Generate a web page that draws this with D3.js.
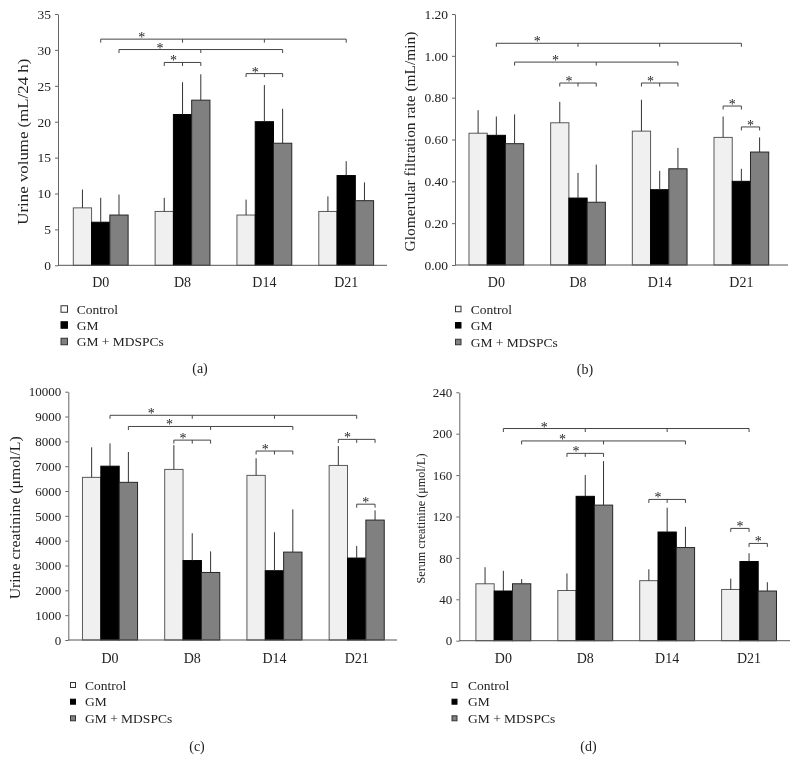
<!DOCTYPE html>
<html>
<head>
<meta charset="utf-8">
<script src="https://cdn.jsdelivr.net/npm/d3@7"></script>
<style>
  html, body { margin: 0; padding: 0; background: #fff; }
  svg { display: block; will-change: transform; }
  text { font-family: "Liberation Serif", "Times New Roman", serif; fill: #222; }
</style>
</head>
<body>
<svg id="chart" width="798" height="770"></svg>
<script>
// ---------- DATA ----------
const categories = ["D0", "D8", "D14", "D21"];
const seriesNames = ["Control", "GM", "GM + MDSPCs"];

// (a) Urine volume (mL/24 h): [Control, GM, GM+MDSPCs] per day
const urineVolume   = [[8, 6, 7], [7.5, 21, 23], [7, 20, 17], [7.5, 12.5, 9]];
const urineVolumeSD = [[2.55, 3.4, 2.85], [1.9, 4.5, 3.6], [2.15, 5.1, 4.8], [2.1, 2.0, 2.55]];
const urineVolumeTicks = [0, 5, 10, 15, 20, 25, 30, 35];

// (b) Glomerular filtration rate (mL/min)
const gfr   = [[0.63, 0.62, 0.58], [0.68, 0.32, 0.30], [0.64, 0.36, 0.46], [0.61, 0.40, 0.54]];
const gfrSD = [[0.11, 0.09, 0.14], [0.10, 0.12, 0.18], [0.15, 0.09, 0.10], [0.10, 0.06, 0.07]];
const gfrTicks = [0, 0.2, 0.4, 0.6, 0.8, 1.0, 1.2];

// (c) Urine creatinine (µmol/L)
const urineCr   = [[6550, 7000, 6350], [6870, 3200, 2720], [6630, 2790, 3540], [7030, 3300, 4830]];
const urineCrSD = [[1210, 920, 1220], [980, 1100, 850], [690, 1550, 1720], [780, 490, 390]];
const urineCrTicks = [0, 1000, 2000, 3000, 4000, 5000, 6000, 7000, 8000, 9000, 10000];

// (d) Serum creatinine (µmol/L)
const serumCr   = [[55, 48, 55], [48.5, 139.5, 131], [58, 105, 90], [49.5, 76.5, 48]];
const serumCrSD = [[16, 19.5, 4.5], [16.5, 20.5, 42.5], [11, 23.5, 20], [10.5, 8, 8.5]];
const serumCrTicks = [0, 40, 80, 120, 160, 200, 240];

// Significance brackets: level + list of [dayIndex, seriesIndex]
const urineVolumeBrackets = [
  { level: 31.5,  pts: [[0,1],[1,1],[2,1],[3,1]] },
  { level: 30.05, pts: [[0,2],[1,2],[2,2]] },
  { level: 28.25, pts: [[1,0],[1,1],[1,2]] },
  { level: 26.7,  pts: [[2,0],[2,1],[2,2]] }
];
const gfrBrackets = [
  { level: 1.06, pts: [[0,1],[1,1],[2,1],[3,1]] },
  { level: 0.97, pts: [[0,2],[1,2],[2,2]] },
  { level: 0.87, pts: [[1,0],[1,1],[1,2]] },
  { level: 0.87, pts: [[2,0],[2,1],[2,2]] },
  { level: 0.76, pts: [[3,0],[3,1]] },
  { level: 0.66, pts: [[3,1],[3,2]] }
];
const urineCrBrackets = [
  { level: 9050, pts: [[0,1],[1,1],[2,1],[3,1]] },
  { level: 8600, pts: [[0,2],[1,2],[2,2]] },
  { level: 8050, pts: [[1,0],[1,1],[1,2]] },
  { level: 7610, pts: [[2,0],[2,1],[2,2]] },
  { level: 8080, pts: [[3,0],[3,1],[3,2]] },
  { level: 5470, pts: [[3,1],[3,2]] }
];
const serumCrBrackets = [
  { level: 205,   pts: [[0,1],[1,1],[2,1],[3,1]] },
  { level: 193,   pts: [[0,2],[1,2],[2,2]] },
  { level: 181,   pts: [[1,0],[1,1],[1,2]] },
  { level: 136.5, pts: [[2,0],[2,1],[2,2]] },
  { level: 108.5, pts: [[3,0],[3,1]] },
  { level: 94,    pts: [[3,1],[3,2]] }
];

// ---------- STYLE / LAYOUT ----------
const fills   = ["#f0f0f0", "#000000", "#808080"];
const strokes = ["#5a5a5a", "#000000", "#262626"];

const panels = [
  { values: urineVolume, sd: urineVolumeSD, ticks: urineVolumeTicks, fmt: d3.format("d"),
    domain: [0, 35], title: "Urine volume (mL/24 h)", titleSize: 15, titleLen: 166, titleX: 23,
    brackets: urineVolumeBrackets, left: 58, right: 387, top: 14, bottom: 265.3,
    band: [59.8, 387.1], catY: 282, tickSize: 13.5, catSize: 14,
    legX: 61, legText: 76.7, legRows: [309, 325, 341.5], legSq: 6.5,
    label: "(a)", labelX: 200, labelY: 368 },
  { values: gfr, sd: gfrSD, ticks: gfrTicks, fmt: d3.format(".2f"),
    domain: [0, 1.2], title: "Glomerular filtration rate (mL/min)", titleSize: 15, titleLen: 220, titleX: 409.5,
    brackets: gfrBrackets, left: 455, right: 788, top: 14, bottom: 265,
    band: [455.5, 782.2], catY: 282, tickSize: 13.5, catSize: 14,
    legX: 455.5, legText: 470.7, legRows: [309, 325.3, 342], legSq: 5.5,
    label: "(b)", labelX: 585, labelY: 369 },
  { values: urineCr, sd: urineCrSD, ticks: urineCrTicks, fmt: d3.format("d"),
    domain: [0, 10000], title: "Urine creatinine (\u03bcmol/L)", titleSize: 15, titleLen: 163, titleX: 15,
    brackets: urineCrBrackets, left: 68.3, right: 397, top: 391.7, bottom: 640,
    band: [68.9, 397.8], catY: 658, tickSize: 13, catSize: 14,
    legX: 70.5, legText: 85, legRows: [685, 701.7, 718.3], legSq: 5,
    label: "(c)", labelX: 197, labelY: 746 },
  { values: serumCr, sd: serumCrSD, ticks: serumCrTicks, fmt: d3.format("d"),
    domain: [0, 240], title: "Serum creatinine (\u03bcmol/L)", titleSize: 13, titleLen: 130, titleX: 420,
    brackets: serumCrBrackets, left: 459.3, right: 790, top: 392.3, bottom: 640.7,
    band: [462.4, 790], catY: 658, tickSize: 13, catSize: 14,
    legX: 452, legText: 468, legRows: [685, 701.7, 718.3], legSq: 5,
    label: "(d)", labelX: 588.5, labelY: 746 }
];

const svg = d3.select("#chart");

panels.forEach(p => {
  const g = svg.append("g");
  const y = d3.scaleLinear().domain(p.domain).range([p.bottom, p.top]);
  const x = d3.scaleBand().domain(categories).range(p.band)
              .paddingInner(0.33).paddingOuter(0.165);
  const xs = d3.scaleBand().domain(d3.range(seriesNames.length)).range([0, x.bandwidth()]);
  const cx = (di, si) => x(categories[di]) + xs(si) + xs.bandwidth() / 2;

  // y axis
  const ya = g.append("g").attr("transform", `translate(${p.left},0)`)
    .call(d3.axisLeft(y).tickValues(p.ticks).tickFormat(p.fmt).tickSize(3).tickSizeOuter(0).tickPadding(4));
  ya.select(".domain").attr("stroke", "#666");
  ya.selectAll(".tick line").attr("stroke", "#666");
  ya.selectAll(".tick text").style("font-family", "Liberation Serif").style("font-size", p.tickSize + "px").attr("fill", "#222");

  // x axis labels
  const xa = g.append("g").attr("transform", `translate(0,${p.bottom})`)
    .call(d3.axisBottom(x).tickSize(0).tickPadding(0));
  xa.select(".domain").remove();
  xa.selectAll(".tick text").attr("dy", null).attr("y", p.catY - p.bottom + 5)
    .style("font-family", "Liberation Serif").style("font-size", p.catSize + "px").attr("fill", "#222");

  // bars
  p.values.forEach((row, di) => {
    row.forEach((v, si) => {
      g.append("rect")
        .attr("x", x(categories[di]) + xs(si))
        .attr("y", y(v))
        .attr("width", xs.bandwidth())
        .attr("height", y(0) - y(v))
        .attr("fill", fills[si])
        .attr("stroke", strokes[si])
        .attr("stroke-width", 1);
      // error bar
      g.append("line")
        .attr("x1", cx(di, si)).attr("x2", cx(di, si))
        .attr("y1", y(v)).attr("y2", y(v + p.sd[di][si]))
        .attr("stroke", "#333").attr("stroke-width", 1);
    });
  });

  // x axis line
  g.append("line").attr("x1", p.left).attr("x2", p.right)
    .attr("y1", y(0)).attr("y2", y(0)).attr("stroke", "#555").attr("stroke-width", 1);

  // brackets
  p.brackets.forEach(b => {
    const yy = y(b.level);
    const xsList = b.pts.map(([di, si]) => cx(di, si));
    g.append("line").attr("x1", xsList[0]).attr("x2", xsList[xsList.length - 1])
      .attr("y1", yy).attr("y2", yy).attr("stroke", "#444").attr("stroke-width", 1);
    xsList.forEach(xx => {
      g.append("line").attr("x1", xx).attr("x2", xx).attr("y1", yy).attr("y2", yy + 3.5)
        .attr("stroke", "#444").attr("stroke-width", 1);
    });
    g.append("text").attr("x", (xsList[0] + xsList[1]) / 2).attr("y", yy + 3)
      .attr("text-anchor", "middle").style("font-size", "14px").attr("fill", "#333").text("*");
  });

  // y title
  g.append("text")
    .attr("transform", `translate(${p.titleX},${(p.top + p.bottom) / 2 + 2}) rotate(-90)`)
    .attr("text-anchor", "middle").attr("dominant-baseline", "central")
    .attr("textLength", p.titleLen).attr("lengthAdjust", "spacingAndGlyphs")
    .style("font-size", p.titleSize + "px").text(p.title);

  // legend
  seriesNames.forEach((name, si) => {
    const ry = p.legRows[si];
    g.append("rect").attr("x", p.legX).attr("y", ry - p.legSq / 2)
      .attr("width", p.legSq).attr("height", p.legSq)
      .attr("fill", si === 0 ? "#fafafa" : fills[si]).attr("stroke", si === 1 ? "#000" : "#333").attr("stroke-width", 1);
    g.append("text").attr("x", p.legText).attr("y", ry).attr("dominant-baseline", "central")
      .style("font-size", "13.5px").text(name);
  });

  // panel label
  g.append("text").attr("x", p.labelX).attr("y", p.labelY).attr("text-anchor", "middle")
    .attr("dominant-baseline", "central").style("font-size", "14px").text(p.label);
});
</script>
</body>
</html>
